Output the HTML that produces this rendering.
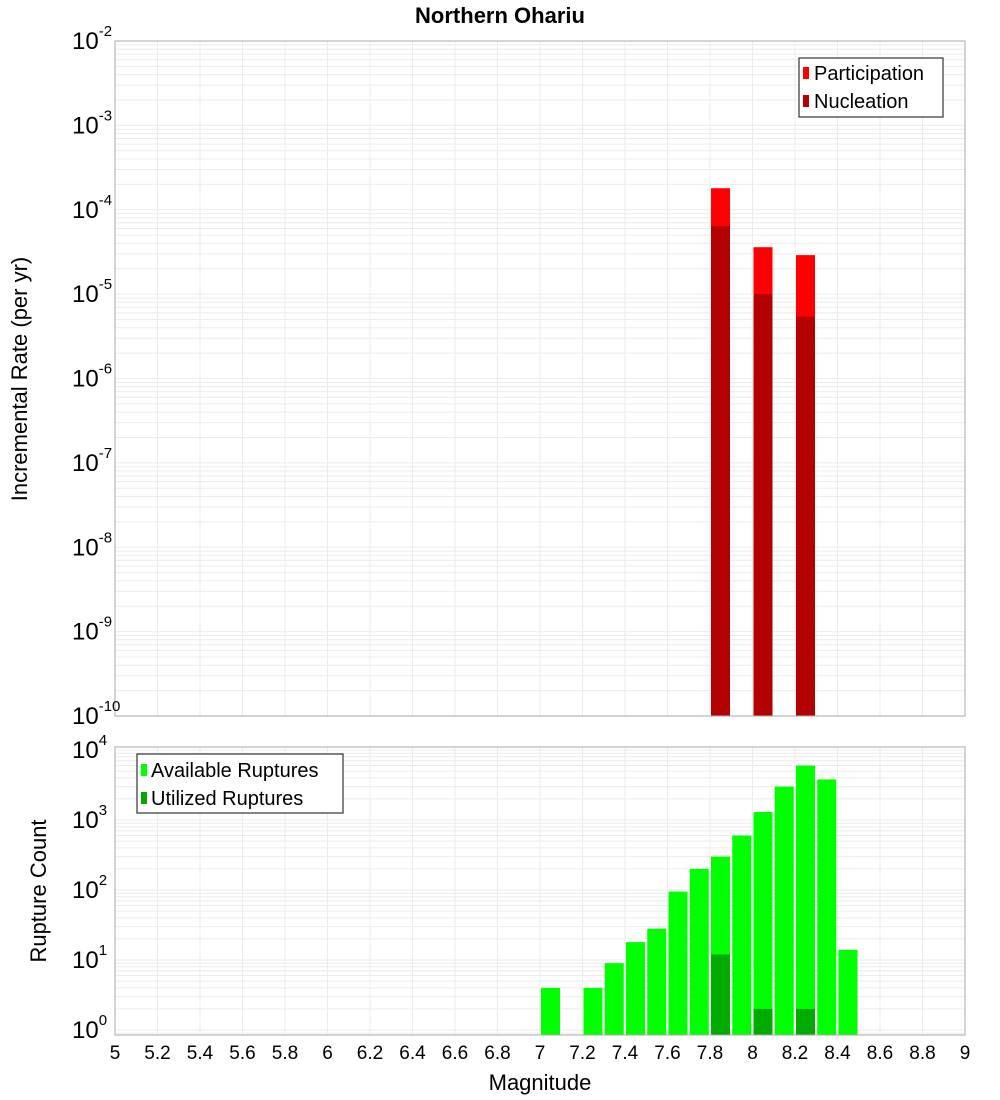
<!DOCTYPE html>
<html><head><meta charset="utf-8"><style>
body{margin:0;background:#fff;}
svg{display:block;font-family:"Liberation Sans","DejaVu Sans",sans-serif;}
</style></head><body>
<svg id="c" width="1000" height="1100" xmlns="http://www.w3.org/2000/svg">
<text x="500" y="23" text-anchor="middle" font-size="22" font-weight="bold">Northern Ohariu</text>
<g id="topg"></g>
<g id="botg"></g>
<text transform="translate(27,379) rotate(-90)" text-anchor="middle" font-size="22">Incremental Rate (per yr)</text>
<text transform="translate(46,891) rotate(-90)" text-anchor="middle" font-size="22">Rupture Count</text>
<text x="540" y="1090" text-anchor="middle" font-size="22">Magnitude</text>
<g>
<rect x="799" y="58" width="144" height="59" fill="#fff" stroke="#333" stroke-width="1.2"/>
<rect x="803" y="67" width="6" height="12" fill="#ff0000"/>
<text x="814" y="80" font-size="20">Participation</text>
<rect x="803" y="95" width="6" height="12" fill="#b30000"/>
<text x="814" y="108" font-size="20">Nucleation</text>
</g>
<g>
<rect x="137" y="754" width="206" height="59" fill="#fff" stroke="#333" stroke-width="1.2"/>
<rect x="141" y="764" width="6" height="12" fill="#00ff00"/>
<text x="151" y="777" font-size="20">Available Ruptures</text>
<rect x="141" y="792" width="6" height="12" fill="#00aa00"/>
<text x="151" y="805" font-size="20">Utilized Ruptures</text>
</g>
</svg>
<script>
const topMags=[7.85,8.05,8.25];
const participation=[1.8e-4,3.6e-5,2.9e-5];
const nucleation=[6.4e-5,1.0e-5,5.4e-6];
const botMags=[7.05,7.25,7.35,7.45,7.55,7.65,7.75,7.85,7.95,8.05,8.15,8.25,8.35,8.45];
const available=[4,4,9,18,28,95,200,300,600,1300,3000,6000,3800,14];
const utilMags=[7.85,8.05,8.25];
const utilized=[12,2,2];
const xTicks=[5,5.2,5.4,5.6,5.8,6,6.2,6.4,6.6,6.8,7,7.2,7.4,7.6,7.8,8,8.2,8.4,8.6,8.8,9];
const topExp=[-2,-3,-4,-5,-6,-7,-8,-9,-10];
const botExp=[0,1,2,3,4];

const NS="http://www.w3.org/2000/svg";
const L=115,R=965;
function x(m){return L+(m-5)*(R-L)/4;}
function yTop(v){return 41+(-2-Math.log10(v))*84.375;}
function yBot(v){return 1030-Math.log10(v)*70;}
function mk(p,tag,a){const e=document.createElementNS(NS,tag);for(const k in a)e.setAttribute(k,a[k]);p.appendChild(e);return e;}
const svgEl=document.getElementById('c');
const topG=document.getElementById('topg'), botG=document.getElementById('botg');

function panel(g,y0,y1,yf,minE,maxE){
  mk(g,'rect',{x:L,y:y0,width:R-L,height:y1-y0,fill:'#fff'});
  for(let e=minE;e<maxE;e++)for(let k=1;k<10;k++){const yy=yf(k*Math.pow(10,e));if(yy<y0||yy>y1)continue;
    const ln=mk(g,'line',{x1:L,x2:R,y1:yy,y2:yy,stroke:'#ebebeb','stroke-width':1});
    
    }
  xTicks.forEach(t=>{const ln=mk(g,'line',{x1:x(t),x2:x(t),y1:y0,y2:y1,stroke:'#ebebeb','stroke-width':1});
    
    });
}
panel(topG,41,716,yTop,-10,-2);
panel(botG,747,1035,yBot,-1,5);

topMags.forEach((m,i)=>{
  const r1=mk(topG,'rect',{x:x(m-0.05)+1,y:yTop(participation[i]),width:19,height:716-yTop(participation[i]),fill:'#ff0000'});
  
  
  const r2=mk(topG,'rect',{x:x(m-0.05)+1,y:yTop(nucleation[i]),width:19,height:716-yTop(nucleation[i]),fill:'#b30000'});
  
  
});
botMags.forEach((m,i)=>{
  const r=mk(botG,'rect',{x:x(m-0.05)+1,y:yBot(available[i]),width:19,height:1035-yBot(available[i]),fill:'#00ff00'});
  
  
});
utilMags.forEach((m,i)=>{
  const r=mk(botG,'rect',{x:x(m-0.05)+1,y:yBot(utilized[i]),width:19,height:1035-yBot(utilized[i]),fill:'#00aa00'});
  
  
});
mk(topG,'rect',{x:L,y:41,width:R-L,height:675,fill:'none',stroke:'#aaa'});
mk(botG,'rect',{x:L,y:747,width:R-L,height:288,fill:'none',stroke:'#aaa'});

function ylab(g,yy,e){
  const t=mk(g,'text',{x:72,y:yy+8,'font-size':24});
  
  
  const b=mk(t,'tspan',{});b.textContent='10';
  const s=mk(t,'tspan',{dy:-13,'font-size':15});s.textContent=String(e);
}
topExp.forEach(e=>ylab(topG,yTop(Math.pow(10,e)),e));
botExp.forEach(e=>ylab(botG,yBot(Math.pow(10,e)),e));
xTicks.forEach(t=>{
  const tx=mk(svgEl,'text',{x:x(t),y:1059,'text-anchor':'middle','font-size':19});
  
  
  tx.textContent=String(t);
});
</script>
</body></html>
